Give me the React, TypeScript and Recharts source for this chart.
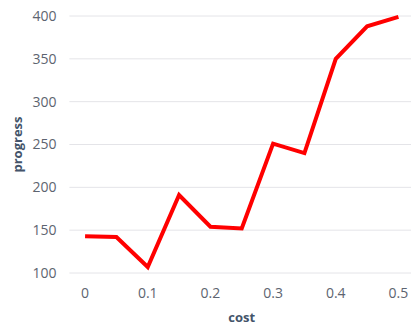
import { LineChart, Line, XAxis, YAxis, CartesianGrid } from "recharts";

// x categories (cost) and measured progress
const costs = [0, 0.05, 0.1, 0.15, 0.2, 0.25, 0.3, 0.35, 0.4, 0.45, 0.5];
const progress = [143, 142, 107, 191, 154, 152, 251, 240, 350, 388, 399];

// labelled ticks and the category boundaries where the tick marks sit
const costTicks = [0, 0.1, 0.2, 0.3, 0.4, 0.5];
const costBoundaries = [
  -0.025, 0.025, 0.075, 0.125, 0.175, 0.225, 0.275, 0.325, 0.375, 0.425, 0.475, 0.525,
];
const progressTicks = [100, 150, 200, 250, 300, 350, 400];

const data = costs.map((c, i) => ({ cost: c, progress: progress[i] }));

const FONT = '"Open Sans", sans-serif';
const TICK = { fontSize: 14, fill: "#5d6470", fontFamily: FONT };
const GRID = "#e4e4e8";

export default function App() {
  return (
    <div
      style={{
        position: "absolute",
        left: 0,
        top: 0,
        width: 411,
        height: 326,
        overflow: "hidden",
        background: "#fff",
      }}
    >
      <LineChart
        width={420}
        height={326}
        data={data}
        margin={{ top: 16, right: 5.9, bottom: 0, left: 0 }}
      >
        <CartesianGrid vertical={false} stroke={GRID} xAxisId="main" />
        <XAxis
          xAxisId="marks"
          dataKey="cost"
          type="number"
          domain={[-0.025, 0.525]}
          ticks={costBoundaries}
          tick={false}
          tickSize={5}
          stroke={GRID}
          height={0}
        />
        <XAxis
          xAxisId="main"
          dataKey="cost"
          type="number"
          domain={[-0.025, 0.525]}
          ticks={costTicks}
          tickFormatter={(v: number) => String(v)}
          axisLine={false}
          tickLine={false}
          tickSize={0}
          tickMargin={15}
          tick={TICK}
          height={53}
          label={{
            value: "cost",
            position: "insideBottom",
            offset: 4,
            style: { fontSize: 13, fontWeight: 700, fill: "#44546a", fontFamily: FONT },
          }}
        />
        <YAxis
          domain={[100, 400]}
          ticks={progressTicks}
          axisLine={false}
          tickLine={false}
          tickSize={0}
          tickMargin={13}
          tick={TICK}
          width={69.4}
          label={{
            value: "progress",
            angle: -90,
            position: "insideLeft",
            offset: 17,
            style: {
              fontSize: 13,
              fontWeight: 700,
              fill: "#44546a",
              fontFamily: FONT,
              textAnchor: "middle",
            },
          }}
        />
        <Line
          xAxisId="main"
          dataKey="progress"
          type="linear"
          stroke="#ff0000"
          strokeWidth={4}
          dot={false}
          isAnimationActive={false}
        />
      </LineChart>
    </div>
  );
}
